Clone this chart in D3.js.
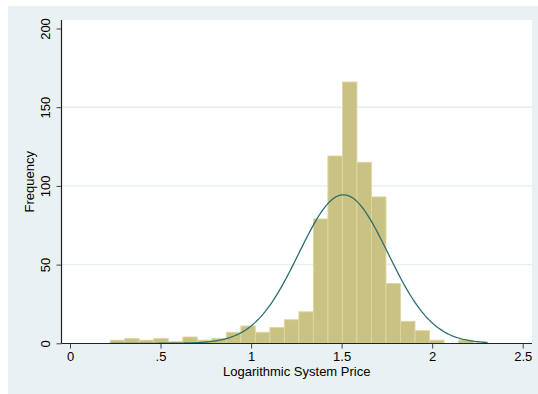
<!DOCTYPE html>
<html>
<head>
<meta charset="utf-8">
<script src="https://cdn.jsdelivr.net/npm/d3@7"></script>
<style>
  html, body { margin: 0; padding: 0; background: #ffffff; }
  svg { display: block; }
  text { font-family: "Liberation Sans", Arial, Helvetica, sans-serif; fill: #000; }
</style>
</head>
<body>
<svg id="chart" width="538" height="394"></svg>
<script>
// Histogram of log system price with a fitted normal density (frequency scale)
const binCounts = [2, 3, 2, 3, 1, 4, 2, 3, 7, 11, 7, 10, 15, 20, 79, 119, 166, 115, 93, 38, 14, 8, 2, 0, 2, 0];
const dataRange = [0.222, 2.306];      // smallest and largest observed value
const normalFit = { mean: 1.51, sd: 0.246 };
const xTicks = [0, 0.5, 1, 1.5, 2, 2.5];
const xTickLabels = ["0", ".5", "1", "1.5", "2", "2.5"];
const yTicks = [0, 50, 100, 150, 200];
const yGrid = [50, 100, 150];
const xTitle = "Logarithmic System Price";
const yTitle = "Frequency";

const svg = d3.select("#chart");
const W = 538, H = 394;
const plot = { left: 61.5, right: 532, top: 20, bottom: 343.5 };

const x = d3.scaleLinear().domain([0, 2.5]).range([70, 522.7]);
const y = d3.scaleLinear().domain([0, 200]).range([343.3, 28.5]);

// outer graph region
svg.append("rect").attr("x", 8).attr("y", 6).attr("width", W - 8).attr("height", H - 6)
  .attr("fill", "#eaf1f3");
// plot region
svg.append("rect").attr("x", plot.left).attr("y", plot.top)
  .attr("width", plot.right - plot.left).attr("height", plot.bottom - plot.top)
  .attr("fill", "#ffffff");

// horizontal grid
svg.append("g").selectAll("line").data(yGrid).join("line")
  .attr("x1", plot.left).attr("x2", plot.right)
  .attr("y1", d => y(d)).attr("y2", d => y(d))
  .attr("stroke", "#e6eef0").attr("stroke-width", 1.4);

// bins
const binWidth = (dataRange[1] - dataRange[0]) / binCounts.length;
const bins = binCounts.map((c, i) => ({
  x0: dataRange[0] + i * binWidth,
  x1: dataRange[0] + (i + 1) * binWidth,
  count: c
}));

svg.append("g").selectAll("rect").data(bins.filter(b => b.count > 0)).join("rect")
  .attr("x", d => x(d.x0))
  .attr("width", d => x(d.x1) - x(d.x0))
  .attr("y", d => y(d.count))
  .attr("height", d => y(0) - y(d.count))
  .attr("fill", "#cac282")
  .attr("stroke", "#ddd7a4")
  .attr("stroke-width", 0.9);

// normal density scaled to counts
const N = d3.sum(binCounts);
const density = v => N * binWidth / (normalFit.sd * Math.sqrt(2 * Math.PI)) *
  Math.exp(-0.5 * Math.pow((v - normalFit.mean) / normalFit.sd, 2));
const curvePts = d3.range(0, 201).map(i => dataRange[0] + (dataRange[1] - dataRange[0]) * i / 200);
svg.append("path")
  .datum(curvePts)
  .attr("d", d3.line().x(d => x(d)).y(d => y(density(d))))
  .attr("fill", "none")
  .attr("stroke", "#2a706e")
  .attr("stroke-width", 1.3);

// y axis
const yAxis = svg.append("g").attr("transform", `translate(${plot.left},0)`)
  .call(d3.axisLeft(y).tickValues(yTicks).tickSize(5).tickFormat(d3.format("d")));
yAxis.select(".domain").remove();
yAxis.selectAll(".tick line").attr("stroke", "#444").attr("stroke-width", 1);
yAxis.selectAll(".tick text")
  .attr("font-size", 13)
  .attr("x", 0).attr("y", 0).attr("dy", null)
  .attr("text-anchor", "middle")
  .attr("transform", "translate(-12,0) rotate(-90)");
svg.append("line").attr("x1", plot.left).attr("x2", plot.left)
  .attr("y1", plot.top).attr("y2", plot.bottom)
  .attr("stroke", "#222").attr("stroke-width", 1.2);

// x axis
const xAxis = svg.append("g").attr("transform", `translate(0,${plot.bottom})`)
  .call(d3.axisBottom(x).tickValues(xTicks).tickSize(5)
    .tickFormat((d, i) => xTickLabels[i]));
xAxis.select(".domain").remove();
xAxis.selectAll(".tick line").attr("stroke", "#444").attr("stroke-width", 1);
xAxis.selectAll(".tick text").attr("font-size", 13).attr("y", 8).attr("dy", "0.71em");
svg.append("line").attr("x1", plot.left).attr("x2", plot.right)
  .attr("y1", plot.bottom).attr("y2", plot.bottom)
  .attr("stroke", "#222").attr("stroke-width", 1.2);

// axis titles
svg.append("text")
  .attr("x", (plot.left + plot.right) / 2).attr("y", 376)
  .attr("text-anchor", "middle").attr("font-size", 13)
  .text(xTitle);
svg.append("text")
  .attr("transform", `translate(34,${(plot.top + plot.bottom) / 2}) rotate(-90)`)
  .attr("text-anchor", "middle").attr("font-size", 13)
  .text(yTitle);
</script>
</body>
</html>
